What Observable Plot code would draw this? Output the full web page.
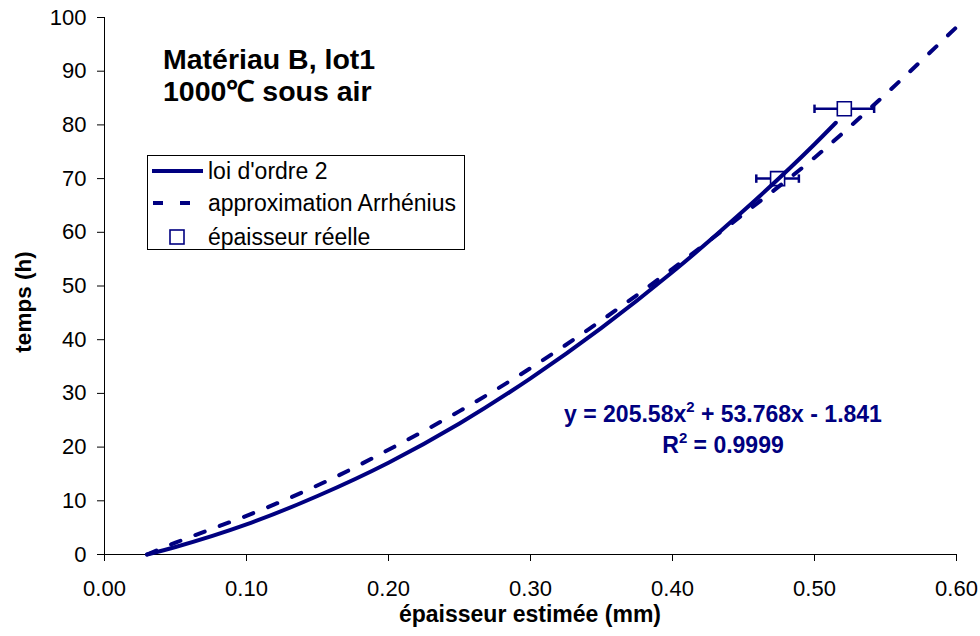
<!DOCTYPE html>
<html>
<head>
<meta charset="utf-8">
<script src="https://cdn.jsdelivr.net/npm/d3@7"></script>
<script src="https://cdn.jsdelivr.net/npm/@observablehq/plot@0.6"></script>
<style>
  html, body { margin: 0; padding: 0; background: #fff; }
  #wrap { position: relative; width: 980px; height: 636px; font-family: "Liberation Sans", Arial, sans-serif; }
  #title { position: absolute; left: 163px; top: 43px; font-size: 28.5px; font-weight: bold; line-height: 32px; color: #000; white-space: nowrap; }
  #eq { position: absolute; left: 523px; width: 400px; top: 399px; font-size: 23px; font-weight: bold; line-height: 31px; color: #000080; text-align: center; white-space: nowrap; }
  #eq .sup { font-size: 0.65em; position: relative; top: -0.7em; line-height: 0; }
  #overlay { position: absolute; left: 0; top: 0; }
</style>
</head>
<body>
<div id="wrap">
  <div id="chart"></div>
  <div id="title">Matériau B, lot1<br>1000℃ sous air</div>
  <div id="eq">y = 205.58x<span class="sup">2</span> + 53.768x - 1.841<br>R<span class="sup">2</span> = 0.9999</div>
</div>
<script>
// ---- data ----
const solidX = [0.030, 0.050, 0.100, 0.150, 0.200, 0.250, 0.300, 0.350, 0.400, 0.450, 0.500, 0.515];
const solidY = [0.0, 1.4, 5.6, 10.9, 17.1, 24.4, 32.8, 42.2, 52.6, 64.0, 76.4, 80.4];

const dashX = [0.030, 0.050, 0.080, 0.100, 0.130, 0.160, 0.200, 0.250, 0.300, 0.350, 0.400, 0.450, 0.500, 0.550, 0.600];
const dashY = [0.0, 2.2, 5.2, 7.2, 10.5, 14.1, 19.5, 26.7, 34.7, 43.6, 53.2, 63.4, 73.9, 85.7, 98.2];

const measX = [0.474, 0.521];
const measY = [70.0, 83.0];
const measErr = [0.015, 0.021];

const xTicks = [0, 0.1, 0.2, 0.3, 0.4, 0.5, 0.6];
const yTicks = [0, 10, 20, 30, 40, 50, 60, 70, 80, 90, 100];

const seriesNames = ["loi d'ordre 2", "approximation Arrhénius", "épaisseur réelle"];

// ---- tables ----
const solid = solidX.map((x, i) => ({x, y: solidY[i]}));
const dashed = dashX.map((x, i) => ({x, y: dashY[i]}));
const meas = measX.map((x, i) => ({x, y: measY[i], e: measErr[i]}));

const navy = "#000080";
const capSymbol = { draw(ctx) { ctx.moveTo(0, -4.2); ctx.lineTo(0, 4.2); } };

const chart = Plot.plot({
  width: 980,
  height: 636,
  marginLeft: 104,
  marginRight: 24,
  marginTop: 17,
  marginBottom: 82,
  style: { fontFamily: "'Liberation Sans', Arial, sans-serif", fontSize: "22px", color: "#000", background: "transparent" },
  x: { domain: [0, 0.6] },
  y: { domain: [0, 100] },
  marks: [
    Plot.axisX({ ticks: xTicks, tickFormat: d3.format(".2f"), tickSize: 7, tickPadding: 19, label: null, stroke: "#000" }),
    Plot.axisY({ ticks: yTicks, tickSize: 7, tickPadding: 11, label: null, stroke: "#000" }),
    Plot.ruleX([0], { stroke: "#000", strokeWidth: 1 }),
    Plot.ruleY([0], { stroke: "#000", strokeWidth: 1 }),
    // error bars
    Plot.link(meas, { x1: d => d.x - d.e, x2: d => d.x + d.e, y1: "y", y2: "y", stroke: navy, strokeWidth: 2.5 }),
    Plot.dot(meas, { x: d => d.x - d.e, y: "y", symbol: capSymbol, stroke: navy, strokeWidth: 2.5, fill: "none" }),
    Plot.dot(meas, { x: d => d.x + d.e, y: "y", symbol: capSymbol, stroke: navy, strokeWidth: 2.5, fill: "none" }),
    // measured points
    Plot.dot(meas, { x: "x", y: "y", symbol: "square", r: 7.9, stroke: navy, strokeWidth: 1.6, fill: "white" }),
    // curves
    Plot.line(dashed, { x: "x", y: "y", stroke: navy, strokeWidth: 4, strokeDasharray: "10,16", curve: "monotone-x" }),
    Plot.line(solid, { x: "x", y: "y", stroke: navy, strokeWidth: 4, curve: "monotone-x" })
  ]
});
document.getElementById("chart").appendChild(chart);

// ---- overlay: axis titles and legend ----
const ov = d3.select("#wrap").append("svg")
  .attr("id", "overlay").attr("width", 980).attr("height", 636)
  .style("font-family", "'Liberation Sans', Arial, sans-serif");

ov.append("text").attr("x", 530).attr("y", 622).attr("text-anchor", "middle")
  .attr("font-size", 23).attr("font-weight", "bold").text("épaisseur estimée (mm)");
ov.append("text").attr("transform", "translate(31,302) rotate(-90)").attr("text-anchor", "middle")
  .attr("font-size", 22.5).attr("font-weight", "bold").text("temps (h)");

const lg = ov.append("g").attr("transform", "translate(147,155)");
lg.append("rect").attr("x", 0.5).attr("y", 0.5).attr("width", 317).attr("height", 94)
  .attr("fill", "white").attr("stroke", "#000").attr("stroke-width", 1);
const rows = [16, 48, 82];
lg.append("line").attr("x1", 5).attr("x2", 56).attr("y1", rows[0]).attr("y2", rows[0])
  .attr("stroke", navy).attr("stroke-width", 4);
lg.append("line").attr("x1", 6).attr("x2", 44).attr("y1", rows[1]).attr("y2", rows[1])
  .attr("stroke", navy).attr("stroke-width", 4).attr("stroke-dasharray", "10,17");
lg.append("rect").attr("x", 23).attr("y", rows[2] - 7).attr("width", 14).attr("height", 14)
  .attr("fill", "white").attr("stroke", navy).attr("stroke-width", 1.6);
seriesNames.forEach((t, i) => {
  lg.append("text").attr("x", 61).attr("y", rows[i] + 8).attr("font-size", 23).attr("fill", "#000").text(t);
});
</script>
</body>
</html>
